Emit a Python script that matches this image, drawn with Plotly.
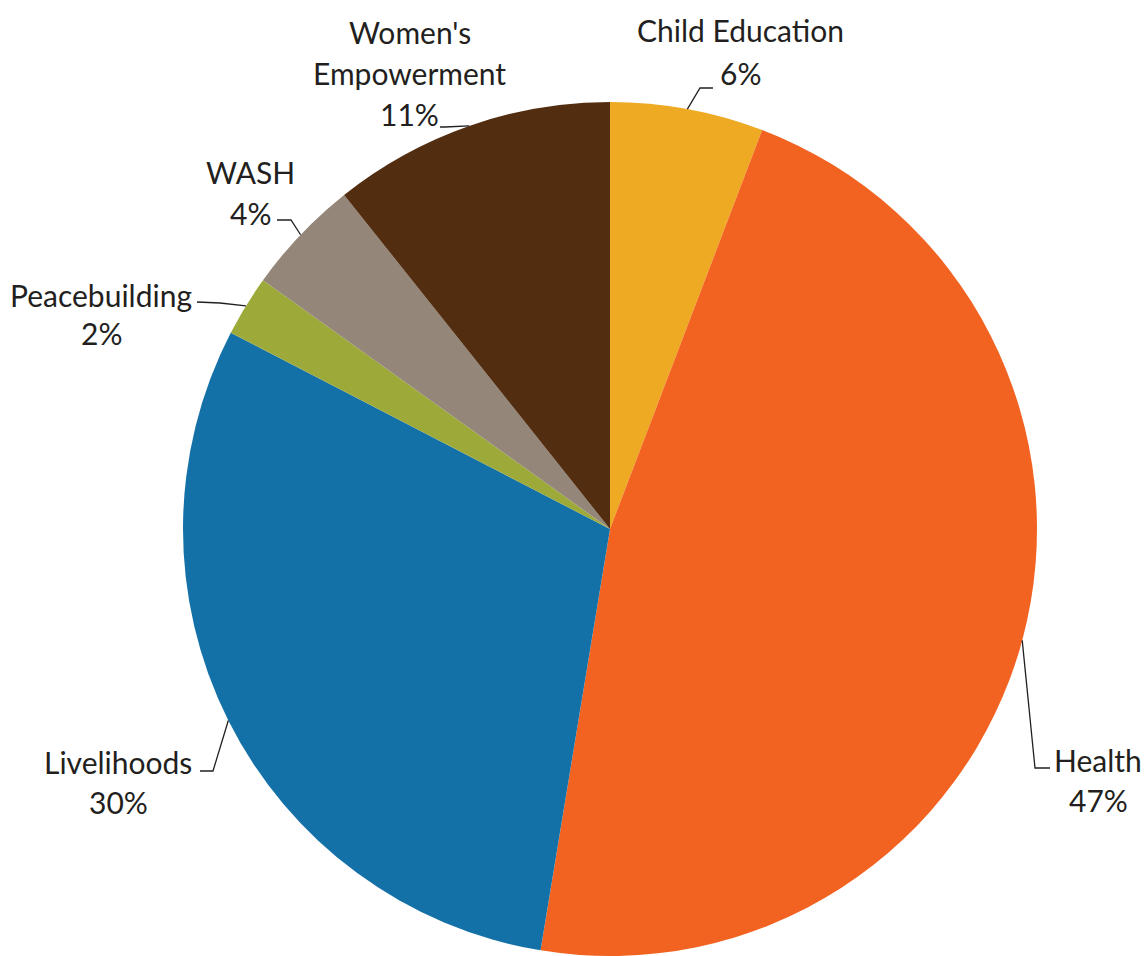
import math
import plotly.graph_objects as go

# ---- data ----
categories = ["Child Education", "Health", "Livelihoods", "Peacebuilding", "WASH", "Women's Empowerment"]
label_lines = [["Child Education"], ["Health"], ["Livelihoods"], ["Peacebuilding"], ["WASH"], ["Women's", "Empowerment"]]
values = [5.8, 46.8, 30.0, 2.3, 4.4, 10.7]
colors = ["#EEAA22", "#F26322", "#1471A8", "#9DAA3A", "#948679", "#532D10"]

# ---- layout (pixels) ----
W, H = 1147, 956
CX, CY, R = 610, 529, 427
TEXT = "#231F20"
FONT = "Lato"
FS = 30

# label placement: (elbow, end, text center x, y of first line, line step)
label_layout = [
    ((700, 88), (713, 88), 740, 30, 43),
    ((1035, 768), (1050, 768), 1098, 760, 40),
    ((213, 771), (200, 771), 118, 762, 40),
    ((220, 303), (197, 302), 101, 295, 38),
    ((291, 220), (277, 220), 250, 172, 41),
    ((445, 127), (440, 127), 410, 32, 41),
]


def px(x):
    return x / W


def py(y):
    return 1 - y / H


fig = go.Figure(go.Pie(
    labels=categories,
    values=values,
    marker=dict(colors=colors, line=dict(width=0)),
    sort=False,
    direction="clockwise",
    rotation=0,
    textinfo="none",
    hoverinfo="label+percent",
    domain=dict(x=[px(CX - R), px(CX + R)], y=[py(CY + R), py(CY - R)]),
    showlegend=False,
))

total = sum(values)
shapes = []
annotations = []
cum = 0
for i, v in enumerate(values):
    mid = (cum + v / 2) / total * 2 * math.pi
    cum += v
    sx = CX + R * math.sin(mid)
    sy = CY - R * math.cos(mid)
    (ex, ey), (tx, ty), cx, y0, step = label_layout[i]
    shapes.append(dict(
        type="path", xref="paper", yref="paper",
        path=f"M {px(sx)},{py(sy)} L {px(ex)},{py(ey)} L {px(tx)},{py(ty)}",
        line=dict(color=TEXT, width=1.3),
    ))
    lines = label_lines[i] + [f"{round(v / total * 100)}%"]
    for k, t in enumerate(lines):
        annotations.append(dict(
            text=t, x=px(cx), y=py(y0 + k * step), xref="paper", yref="paper",
            xanchor="center", yanchor="middle", showarrow=False,
            font=dict(family=FONT, size=FS, color=TEXT),
        ))

fig.update_layout(
    width=W, height=H,
    margin=dict(l=0, r=0, t=0, b=0),
    paper_bgcolor="white", plot_bgcolor="white",
    shapes=shapes, annotations=annotations,
)

fig.write_html(
    "out.html",
    config={"displayModeBar": False},
    post_script="document.body.style.margin='0';document.body.style.overflow='hidden';",
)
